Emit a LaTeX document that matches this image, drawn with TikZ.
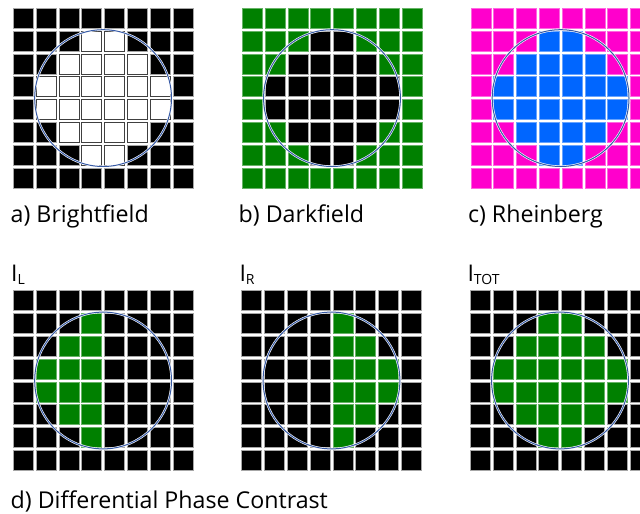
\documentclass[tikz,border=0pt]{standalone}
\usepackage{fontspec}
\setmainfont{Open Sans}
\definecolor{grn}{RGB}{0,128,0}
\definecolor{mag}{RGB}{255,0,204}
\definecolor{blu}{RGB}{0,102,255}
\definecolor{ring}{RGB}{55,90,165}
\def\edgeblack{gray!70}
\def\edgewhite{gray!50!black}
\def\edgegrn{grn!60!white}
\def\edgemag{mag!60!white}
\def\edgeblu{blu!60!white}
\newcommand\pupilgrid[5]{% x, y, out fill, inL fill, inR fill
  \foreach \r in {0,...,7}{\foreach \c in {0,...,7}{
    \pgfmathsetmacro\dd{(\c-3.5)^2+(\r-3.5)^2}
    \ifdim\dd pt<7pt
      \ifnum\c<4 \def\fc{#4}\else\def\fc{#5}\fi
    \else
      \def\fc{#3}
    \fi
    \edef\ec{\csname edge\fc\endcsname}
    \path[cellbox, fill=\fc, draw=\ec] ({#1+\c*22.8},{#2+\r*22.8}) rectangle ++(20,20);
  }}
  \draw[white, line width=2.2pt] ({#1+89.8},{#2+89.8}) circle[radius=68.4];
  \draw[ring, line width=1pt] ({#1+89.8},{#2+89.8}) circle[radius=68.4];
}
\tikzset{
  cellbox/.style={line width=0.6pt},
  caption/.style={anchor=base west, inner sep=0pt, font=\fontsize{23.2}{27}\selectfont},
  ilabel/.style={anchor=base west, inner sep=0pt, font=\fontsize{23}{26}\selectfont},
}
\newcommand\subtxt[1]{\raisebox{-3pt}{\fontsize{14}{14}\selectfont #1}}
\begin{document}
\begin{tikzpicture}[x=1pt,y=-1pt]
\useasboundingbox (0,0) rectangle (640,514);
\clip (0,0) rectangle (640,514);
\fill[white] (0,0) rectangle (640,514);
\pupilgrid{13.3}{8.3}{black}{white}{white}
\pupilgrid{242.2}{8.3}{grn}{black}{black}
\pupilgrid{470.8}{8.3}{mag}{blu}{blu}
\pupilgrid{13.3}{290.7}{black}{grn}{black}
\pupilgrid{241.7}{290.7}{black}{black}{grn}
\pupilgrid{470.2}{290.7}{black}{grn}{grn}
\node[caption] (capa) at (10.5,222.5) {a) Brightfield};
\node[caption] (capb) at (238.5,222.5) {b) Darkfield};
\node[caption] (capc) at (467.8,222.5) {c) Rheinberg};
\node[caption] (capd) at (10.5,508) {d) Differential Phase Contrast};
\node[ilabel] (il) at (11,281.5) {I\subtxt{L}};
\node[ilabel] (ir) at (239.3,281.5) {I\subtxt{R}};
\node[ilabel] (itot) at (467.3,281.5) {I\subtxt{TOT}};
\end{tikzpicture}
\end{document}
